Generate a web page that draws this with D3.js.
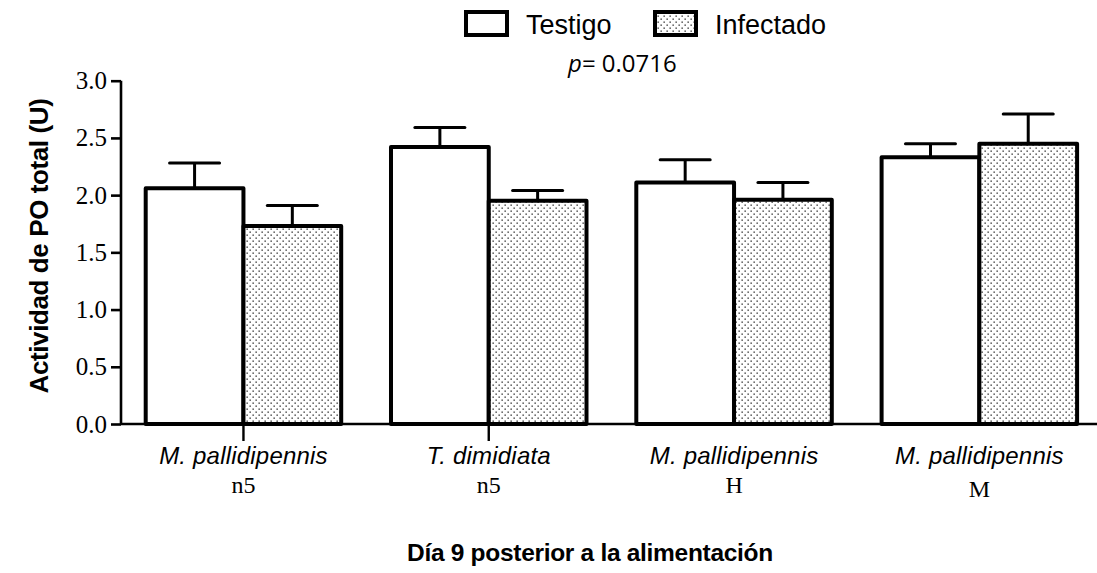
<!DOCTYPE html>
<html>
<head>
<meta charset="utf-8">
<script src="https://cdn.jsdelivr.net/npm/d3@7"></script>
<style>
  html, body { margin: 0; padding: 0; background: #fff; }
  svg { display: block; }
</style>
</head>
<body>
<svg id="chart" width="1097" height="573"></svg>
<script>
// Categories: species on the first line, stage/sex on the second
const speciesNames = ["M. pallidipennis", "T. dimidiata", "M. pallidipennis", "M. pallidipennis"];
const stageNames = ["n5", "n5", "H", "M"];
const seriesNames = ["Testigo", "Infectado"];

// Mean total PO activity (U) and the upper error (mean + SE)
const testigoMeans = [2.06, 2.42, 2.11, 2.33];
const testigoUpper = [2.28, 2.59, 2.31, 2.45];
const infectadoMeans = [1.73, 1.95, 1.96, 2.45];
const infectadoUpper = [1.91, 2.04, 2.11, 2.71];

const yTicks = [0, 0.5, 1.0, 1.5, 2.0, 2.5, 3.0];
const pValueText = "0.0716";

const svg = d3.select("#chart");

const groups = speciesNames.map((s, i) => "g" + i);
const rows = [];
groups.forEach((g, i) => {
  rows.push({ group: g, series: "Testigo", value: testigoMeans[i], upper: testigoUpper[i] });
  rows.push({ group: g, series: "Infectado", value: infectadoMeans[i], upper: infectadoUpper[i] });
});

const y = d3.scaleLinear().domain([0, 3]).range([424, 80.7]);
const x0 = d3.scaleBand().domain(groups).range([145.7, 1077.1]).paddingInner(0.203).paddingOuter(0);
const x1 = d3.scaleBand().domain(seriesNames).range([0, x0.bandwidth()]).padding(0);

// Stipple fill for the infected series
const defs = svg.append("defs");
const pat = defs.append("pattern")
  .attr("id", "stipple")
  .attr("patternUnits", "userSpaceOnUse")
  .attr("width", 6).attr("height", 6);
pat.append("rect").attr("width", 6).attr("height", 6).attr("fill", "#fff");
pat.append("rect").attr("x", 0.5).attr("y", 0.5).attr("width", 1.3).attr("height", 1.3).attr("fill", "#222");
pat.append("rect").attr("x", 3.5).attr("y", 3.5).attr("width", 1.3).attr("height", 1.3).attr("fill", "#222");

const fillFor = s => s === "Testigo" ? "#fff" : "url(#stipple)";

// Bars
const plot = svg.append("g");
plot.selectAll("rect.bar")
  .data(rows)
  .join("rect")
  .attr("class", "bar")
  .attr("x", d => x0(d.group) + x1(d.series))
  .attr("y", d => y(d.value))
  .attr("width", x1.bandwidth())
  .attr("height", d => y(0) - y(d.value))
  .attr("fill", d => fillFor(d.series))
  .attr("stroke", "#000")
  .attr("stroke-width", 4)
  .attr("stroke-linejoin", "round");

// Upper error bars
const capHalf = 25;
const err = plot.selectAll("g.err").data(rows).join("g").attr("class", "err");
err.append("line")
  .attr("x1", d => x0(d.group) + x1(d.series) + x1.bandwidth() / 2)
  .attr("x2", d => x0(d.group) + x1(d.series) + x1.bandwidth() / 2)
  .attr("y1", d => y(d.value))
  .attr("y2", d => y(d.upper))
  .attr("stroke", "#000").attr("stroke-width", 3);
err.append("line")
  .attr("x1", d => x0(d.group) + x1(d.series) + x1.bandwidth() / 2 - capHalf)
  .attr("x2", d => x0(d.group) + x1(d.series) + x1.bandwidth() / 2 + capHalf)
  .attr("y1", d => y(d.upper))
  .attr("y2", d => y(d.upper))
  .attr("stroke", "#000").attr("stroke-width", 3).attr("stroke-linecap", "round");

// Y axis
const yAxis = d3.axisLeft(y).tickValues(yTicks).tickFormat(d3.format(".1f")).tickSize(10).tickPadding(4);
const gy = svg.append("g").attr("transform", "translate(121,0)").call(yAxis);
gy.select(".domain").attr("stroke-width", 2.6).attr("d", `M0,${y(3)}V${y(0)}`);
gy.selectAll(".tick line").attr("stroke-width", 2.6);
gy.selectAll(".tick text")
  .attr("font-family", "'Liberation Serif', 'Times New Roman', serif")
  .attr("font-size", 25)
  .attr("fill", "#000");

// X axis baseline and group ticks
svg.append("line")
  .attr("x1", 121).attr("x2", 1097)
  .attr("y1", y(0)).attr("y2", y(0))
  .attr("stroke", "#000").attr("stroke-width", 2.6);
svg.selectAll("line.xtick")
  .data(groups.slice(0, 2))
  .join("line")
  .attr("class", "xtick")
  .attr("x1", g => x0(g) + x0.bandwidth() / 2)
  .attr("x2", g => x0(g) + x0.bandwidth() / 2)
  .attr("y1", y(0)).attr("y2", y(0) + 17)
  .attr("stroke", "#000").attr("stroke-width", 2.4);

// Category labels
const lab = svg.selectAll("g.cat").data(groups).join("g").attr("class", "cat")
  .attr("transform", g => `translate(${x0(g) + x0.bandwidth() / 2},0)`);
lab.append("text")
  .attr("y", 464)
  .attr("text-anchor", "middle")
  .attr("font-family", "'Liberation Sans', Arial, sans-serif")
  .attr("font-style", "italic")
  .attr("font-size", 24)
  .attr("letter-spacing", 0.2)
  .text((g, i) => speciesNames[i]);
lab.append("text")
  .attr("y", (g, i) => i === 3 ? 497 : 493)
  .attr("text-anchor", "middle")
  .attr("font-family", "'Liberation Serif', 'Times New Roman', serif")
  .attr("font-size", 24)
  .text((g, i) => stageNames[i]);

// Axis titles
svg.append("text")
  .attr("transform", "translate(48,246) rotate(-90)")
  .attr("text-anchor", "middle")
  .attr("font-family", "'Liberation Sans', Arial, sans-serif")
  .attr("font-weight", "bold")
  .attr("font-size", 26)
  .attr("letter-spacing", -0.4)
  .text("Actividad de PO total (U)");

svg.append("text")
  .attr("x", 590).attr("y", 561)
  .attr("text-anchor", "middle")
  .attr("font-family", "'Liberation Sans', Arial, sans-serif")
  .attr("font-weight", "bold")
  .attr("font-size", 24.5)
  .attr("letter-spacing", -0.3)
  .text("Día 9 posterior a la alimentación");

// p-value annotation
const pt = svg.append("text")
  .attr("x", 568).attr("y", 72)
  .attr("font-family", "'Open Sans', 'Liberation Sans', sans-serif")
  .attr("font-size", 24);
pt.append("tspan").attr("font-style", "italic").text("p");
pt.append("tspan").text("= " + pValueText);

// Legend
const legend = svg.append("g");
const legX = [464, 653];
const legTextX = [526, 715];
seriesNames.forEach((s, i) => {
  legend.append("rect")
    .attr("x", legX[i] + 2).attr("y", 12)
    .attr("width", 41).attr("height", 23)
    .attr("fill", fillFor(s))
    .attr("stroke", "#000").attr("stroke-width", 4);
  legend.append("text")
    .attr("x", legTextX[i]).attr("y", 34)
    .attr("font-family", "'Liberation Sans', Arial, sans-serif")
    .attr("font-size", 27)
    .text(s);
});
</script>
</body>
</html>
